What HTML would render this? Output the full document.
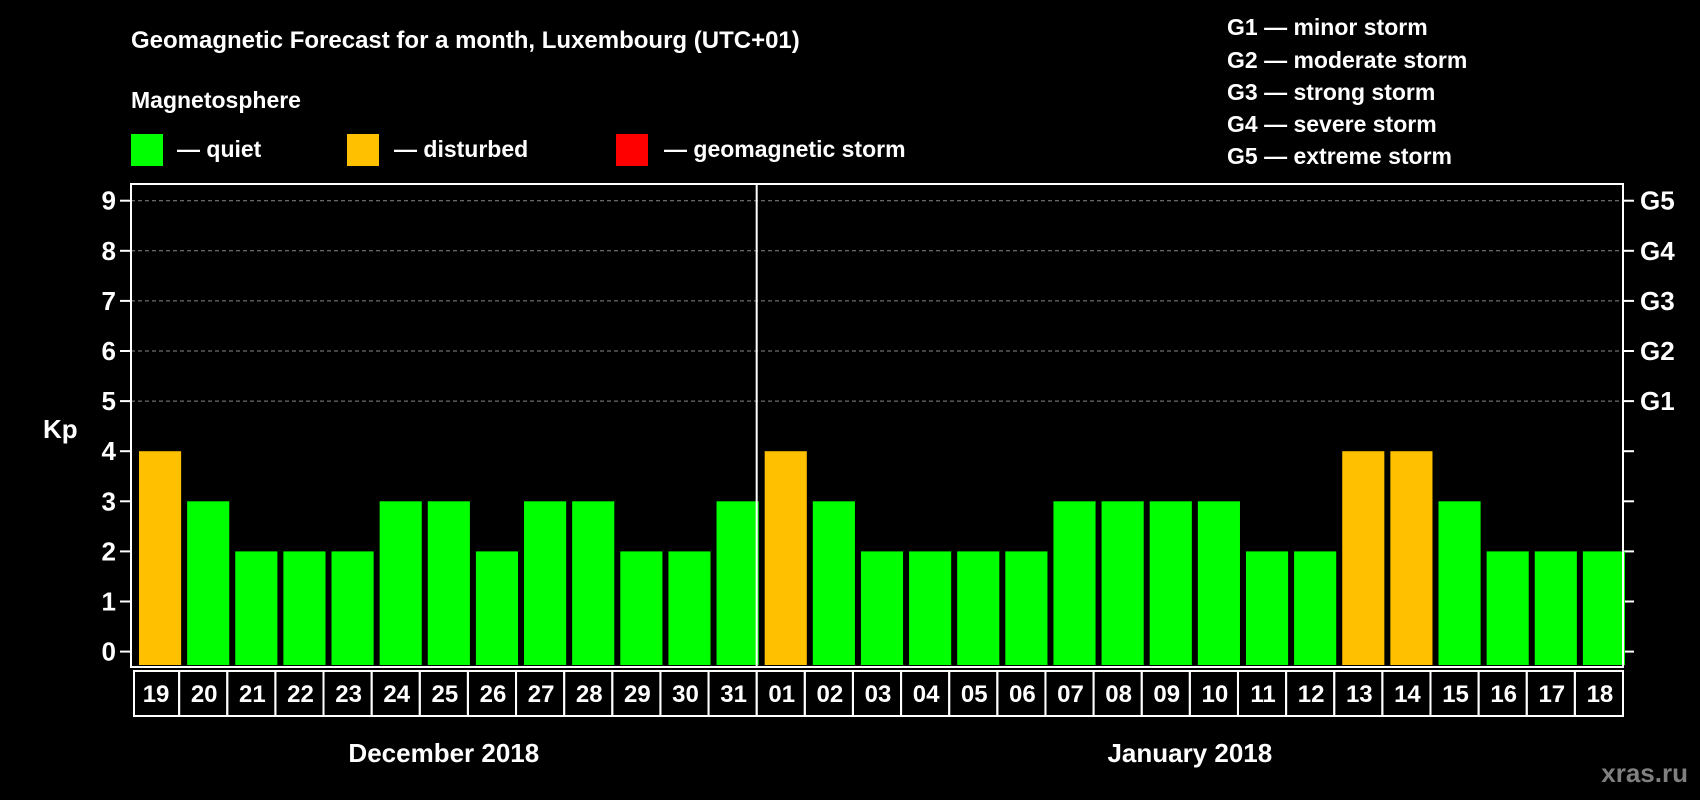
<!DOCTYPE html>
<html><head><meta charset="utf-8"><style>
html,body{margin:0;padding:0;background:#000;}
svg{display:block;font-family:"Liberation Sans",Arial,sans-serif;font-weight:bold;}
</style></head><body>
<svg id="chart" width="1700" height="800" viewBox="0 0 1700 800" xmlns="http://www.w3.org/2000/svg">
<rect width="1700" height="800" fill="#000"/>
<text x="131" y="48" fill="#fff" font-size="24">Geomagnetic Forecast for a month, Luxembourg (UTC+01)</text>
<text x="131" y="108" fill="#fff" font-size="23">Magnetosphere</text>
<g>
<rect x="131" y="134" width="32" height="32" fill="#00ff00"/>
<text x="177" y="157" fill="#fff" font-size="23">— quiet</text>
<rect x="347" y="134" width="32" height="32" fill="#ffc000"/>
<text x="394" y="157" fill="#fff" font-size="23">— disturbed</text>
<rect x="616" y="134" width="32" height="32" fill="#ff0000"/>
<text x="664" y="157" fill="#fff" font-size="23">— geomagnetic storm</text>
</g>
<g fill="#fff" font-size="23">
<text x="1227" y="35">G1 — minor storm</text>
<text x="1227" y="68">G2 — moderate storm</text>
<text x="1227" y="100">G3 — strong storm</text>
<text x="1227" y="132">G4 — severe storm</text>
<text x="1227" y="164">G5 — extreme storm</text>
</g>
<text x="43" y="438" fill="#fff" font-size="26">Kp</text>
<text x="1688" y="782" fill="#808080" font-size="26" text-anchor="end">xras.ru</text>
<g id="plot"></g>
</svg>
<script>
const days = ["19","20","21","22","23","24","25","26","27","28","29","30","31","01","02","03","04","05","06","07","08","09","10","11","12","13","14","15","16","17","18"];
const kp = [4,3,2,2,2,3,3,2,3,3,2,2,3,4,3,2,2,2,2,3,3,3,3,2,2,4,4,3,2,2,2];
const yTicks = [0,1,2,3,4,5,6,7,8,9];
const gLabels = ["G1","G2","G3","G4","G5"];
const gLevels = [5,6,7,8,9];
const months = ["December 2018","January 2018"];
const monthSplit = 13;

const NS="http://www.w3.org/2000/svg";
const L=131,R=1623,T=184,B=667,y0=651.6,unit=50.1;
const n=days.length, step=(R-L)/n;
const y=v=>y0-v*unit;
const x=i=>L+i*step;
const g=document.getElementById('plot');
function mk(tag,attrs){const e=document.createElementNS(NS,tag);for(const k in attrs)e.setAttribute(k,attrs[k]);g.appendChild(e);return e;}
function color(v){return v>=5?"#ff0000":(v>=4?"#ffc000":"#00ff00");}

yTicks.forEach(t=>{
  if(t>=5){const gl=mk('line',{x1:L,x2:R,y1:y(t),y2:y(t),stroke:"#888","stroke-dasharray":"4,3","stroke-width":1});
  
  }
  const tl=mk('line',{x1:L-11,x2:L,y1:y(t),y2:y(t),stroke:"#fff","stroke-width":2});
  
  
  const tr=mk('line',{x1:R,x2:R+11,y1:y(t),y2:y(t),stroke:"#fff","stroke-width":2});
  
  
  const lb=mk('text',{x:L-15,y:y(t)+9,fill:"#fff","font-size":26,"text-anchor":"end"});
  lb.textContent=t;
  
  
});
gLabels.forEach((s,i)=>{
  const t=mk('text',{x:R+17,y:y(gLevels[i])+9,fill:"#fff","font-size":26});
  t.textContent=s;
  
  
});
kp.forEach((v,i)=>{
  const b=mk('rect',{x:x(i)+8,y:y(v),width:step-6-8+6-6+0,height:B-2-y(v),fill:color(v)});
  b.setAttribute('width',step-6);
  b.setAttribute('x',x(i)+8);
  
  
  const c=mk('rect',{x:x(i)+(i==0?3:0),y:B+4,width:step-(i==0?3:0),height:45,fill:"none",stroke:"#fff","stroke-width":2});
  
  
  const t=mk('text',{x:x(i)+step/2+1,y:B+35,fill:"#fff","font-size":24,"text-anchor":"middle"});
  t.textContent=days[i];
  
  
});
const frame=mk('rect',{x:L,y:T,width:R-L,height:B-T,fill:"none",stroke:"#fff","stroke-width":2});


const sep=mk('line',{x1:x(monthSplit),x2:x(monthSplit),y1:T,y2:B,stroke:"#fff","stroke-width":2});


[[0,monthSplit],[monthSplit,n]].forEach((r,k)=>{
  const t=mk('text',{x:(x(r[0])+x(r[1]))/2,y:762,fill:"#fff","font-size":26,"text-anchor":"middle"});
  t.textContent=months[k];
  
  
});
</script>
</body></html>
